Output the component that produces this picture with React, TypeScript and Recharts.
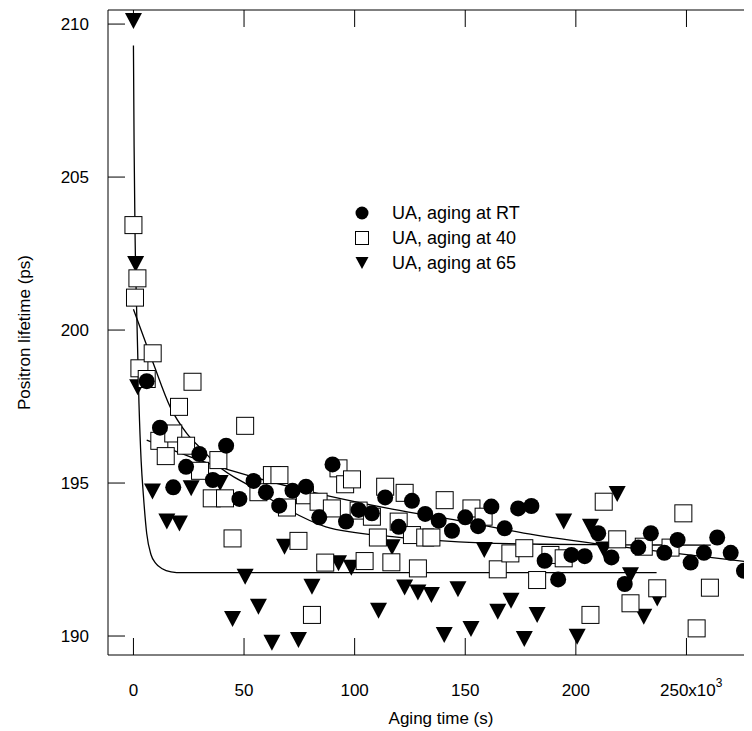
import React from 'react';
import { ComposedChart, Scatter, Line, XAxis, YAxis, ReferenceLine, Legend } from 'recharts';

// ---- data ----
const rtTime = [6, 12, 18, 23.8, 29.8, 35.9, 41.9, 47.9, 54.3, 59.9, 65.9, 71.9, 78, 84, 90, 96.1, 101.8, 107.8, 113.8, 119.9, 125.9, 131.9, 138, 144, 150, 155.8, 161.8, 167.8, 173.9, 179.9, 185.9, 192, 198, 204, 210.1, 216.1, 222.1, 228.2, 233.9, 240, 246, 251.9, 257.9, 263.9, 270, 276];
const rtLifetime = [198.33, 196.81, 194.86, 195.53, 195.95, 195.1, 196.22, 194.48, 195.07, 194.7, 194.26, 194.75, 194.88, 193.88, 195.61, 193.74, 194.12, 194.01, 194.53, 193.57, 194.42, 193.99, 193.77, 193.44, 193.88, 193.59, 194.23, 193.52, 194.17, 194.25, 192.46, 191.85, 192.65, 192.61, 193.36, 192.57, 191.7, 192.89, 193.36, 192.72, 193.14, 192.4, 192.72, 193.22, 192.72, 192.13];

const a40Time = [0, 0.7, 1.8, 2.7, 6, 8.7, 11.7, 14.6, 18, 20.6, 23.8, 26.7, 30.1, 35.4, 38.4, 41.4, 44.8, 50.5, 56.5, 62.6, 66, 69.4, 74.6, 77.5, 80.7, 83.7, 86.7, 89.7, 92.7, 95.7, 98.8, 101.8, 104.5, 107.8, 110.5, 113.8, 116.6, 119.9, 122.6, 125.9, 128.6, 131.9, 134.7, 140.7, 152.8, 158.3, 164.7, 170.4, 176.7, 182.5, 188.5, 194.5, 206.6, 212.6, 218.7, 224.7, 230.7, 236.8, 242.8, 248.6, 254.6, 260.6];
const a40Lifetime = [203.43, 201.06, 201.69, 198.75, 198.4, 199.24, 196.38, 195.88, 196.62, 197.49, 196.22, 198.31, 195.4, 194.5, 195.75, 194.5, 193.19, 196.87, 194.7, 195.26, 195.26, 194.2, 193.11, 194.6, 190.69, 194.39, 192.4, 194.17, 195.48, 194.96, 195.12, 194.1, 192.45, 193.9, 193.22, 194.88, 192.41, 193.74, 194.68, 193.3, 192.21, 193.22, 193.22, 194.44, 194.17, 193.9, 192.18, 192.7, 192.87, 191.83, 192.65, 192.54, 190.69, 194.39, 193.16, 191.07, 192.92, 191.56, 192.89, 194.01, 190.25, 191.58];

const a65Time = [0, 1, 1.9, 8.6, 15.1, 20.8, 26.1, 39.2, 44.8, 50.5, 56.5, 62.6, 68.3, 74.6, 80.7, 92.7, 98.5, 110.8, 116.9, 122.6, 128.6, 134.7, 140.5, 146.7, 152.6, 158.6, 164.7, 170.7, 176.7, 182.5, 194.5, 200.6, 206.6, 212.6, 218.7, 224.7, 230.7, 236.8];
const a65Lifetime = [210.1, 202.16, 198.13, 194.72, 193.74, 193.68, 194.83, 195.0, 190.56, 191.94, 190.96, 189.78, 192.92, 189.87, 191.61, 192.38, 192.23, 190.83, 192.9, 191.59, 191.42, 191.34, 190.03, 191.53, 190.23, 192.81, 190.79, 191.15, 189.9, 190.69, 193.74, 189.98, 193.57, 192.83, 194.64, 191.99, 190.63, 191.23];

const fitRTTime = [6, 26, 40, 54, 87, 117, 147, 182, 230, 278];
const fitRTLifetime = [196.4, 195.85, 195.5, 195.2, 194.6, 194.15, 193.77, 193.3, 192.83, 192.42];

const fit40Time = [0, 9, 16.6, 24.1, 31.6, 37.7, 54.3, 69.4, 87, 117, 147, 184, 220, 261];
const fit40Lifetime = [200.68, 198.91, 197.49, 196.62, 196.05, 195.6, 194.83, 194.15, 193.57, 193.25, 193.08, 193.0, 192.98, 192.97];

const fit65Time = [0, 0.3, 0.7, 1.5, 2.5, 3.5, 4.5, 6, 8, 10, 13, 17, 22, 236.5];
const fit65Lifetime = [209.3, 206, 203.3, 200.5, 197.6, 195.7, 194.6, 193.35, 192.65, 192.38, 192.2, 192.1, 192.07, 192.07];

const xTicks = [0, 50, 100, 150, 200, 250];
const xTickLabels = ['0', '50', '100', '150', '200', '250x10'];
const yTicks = [190, 195, 200, 205, 210];
const legendLabels = ['UA, aging at RT', 'UA, aging at 40', 'UA, aging at 65'];

const X_DOMAIN: [number, number] = [-11.5, 283.7];
const Y_DOMAIN: [number, number] = [189.38, 210.46];

const zip = (ts: number[], vs: number[]) => ts.map((t, i) => ({ t, v: vs[i] }));
const rtData = zip(rtTime, rtLifetime);
const a40Data = zip(a40Time, a40Lifetime);
const a65Data = zip(a65Time, a65Lifetime);
const fitRT = zip(fitRTTime, fitRTLifetime);
const fit40 = zip(fit40Time, fit40Lifetime);
const fit65 = zip(fit65Time, fit65Lifetime);

// ---- layout ----
const FONT = '"Liberation Sans", Arial, Helvetica, sans-serif';
const W = 760;
const H = 723;
const PLOT_LEFT = 100;
const PLOT_RIGHT = 753;
const PLOT_TOP = 2;
const PLOT_BOTTOM = 647;
const TICK = 17;
const FS = 17;

const XTick = (props: any) => {
  const { x, payload } = props;
  const idx = xTicks.indexOf(payload.value);
  const label = idx >= 0 ? xTickLabels[idx] : String(payload.value);
  const isLast = payload.value === 250;
  return (
    <g>
      <line x1={x} x2={x} y1={PLOT_BOTTOM} y2={PLOT_BOTTOM - TICK} stroke="#000" strokeWidth={1} />
      <line x1={x} x2={x} y1={PLOT_TOP} y2={PLOT_TOP + TICK} stroke="#000" strokeWidth={1} />
      {isLast ? (
        <text x={x + 36} y={688} textAnchor="end" fontSize={FS} fontFamily={FONT} fill="#000">
          {label}
          <tspan dy={-9} fontSize={12}>3</tspan>
        </text>
      ) : (
        <text x={x} y={688} textAnchor="middle" fontSize={FS} fontFamily={FONT} fill="#000">
          {label}
        </text>
      )}
    </g>
  );
};

const YTick = (props: any) => {
  const { y, payload } = props;
  return (
    <g>
      <line x1={PLOT_LEFT} x2={PLOT_LEFT + TICK} y1={y} y2={y} stroke="#000" strokeWidth={1} />
      <line x1={PLOT_RIGHT} x2={PLOT_RIGHT - TICK} y1={y} y2={y} stroke="#000" strokeWidth={1} />
      <text x={81} y={y + 6} textAnchor="end" fontSize={FS} fontFamily={FONT} fill="#000">
        {payload.value}
      </text>
    </g>
  );
};

const CircleShape = (p: any) => <circle cx={p.cx} cy={p.cy} r={8} fill="#000" />;
const SquareShape = (p: any) => (
  <rect x={p.cx - 8.5} y={p.cy - 8.5} width={17} height={17} fill="#fff" stroke="#000" strokeWidth={1} />
);
const TriShape = (p: any) => (
  <polygon
    points={`${p.cx - 8.5},${p.cy - 8} ${p.cx + 8.5},${p.cy - 8} ${p.cx},${p.cy + 8}`}
    fill="#000"
  />
);

const LegendContent = () => (
  <svg width={220} height={75} style={{ display: 'block', overflow: 'visible' }}>
    {legendLabels.map((label, i) => {
      const cy = 10 + i * 25;
      const cx = 14;
      let marker;
      if (i === 0) marker = <circle cx={cx} cy={cy} r={6.5} fill="#000" />;
      else if (i === 1) marker = <rect x={cx - 6.5} y={cy - 6.5} width={13} height={13} fill="#fff" stroke="#000" strokeWidth={1} />;
      else marker = <polygon points={`${cx - 6.5},${cy - 6} ${cx + 6.5},${cy - 6} ${cx},${cy + 6}`} fill="#000" />;
      return (
        <g key={label}>
          {marker}
          <text x={44} y={cy + 6} fontSize={18} fontFamily={FONT} fill="#000">{label}</text>
        </g>
      );
    })}
  </svg>
);

export default function App() {
  return (
    <div style={{ width: 744, height: H, overflow: 'hidden', fontFamily: FONT }}>
      <ComposedChart width={W} height={H} margin={{ top: PLOT_TOP, right: W - PLOT_RIGHT, bottom: 0, left: 0 }}>
        <XAxis
          type="number"
          dataKey="t"
          domain={X_DOMAIN}
          ticks={xTicks}
          allowDataOverflow
          height={H - PLOT_BOTTOM}
          tickLine={false}
          tick={<XTick />}
          axisLine={{ stroke: '#000', strokeWidth: 1 }}
          interval={0}
          label={(p: any) => (
            <text x={433} y={716} textAnchor="middle" fontSize={FS} fontFamily={FONT} fill="#000">Aging time (s)</text>
          )}
        />
        <YAxis
          type="number"
          dataKey="v"
          domain={Y_DOMAIN}
          ticks={yTicks}
          allowDataOverflow
          width={PLOT_LEFT}
          tickLine={false}
          tick={<YTick />}
          axisLine={{ stroke: '#000', strokeWidth: 1 }}
          interval={0}
          label={(p: any) => (
            <text x={22} y={(PLOT_TOP + PLOT_BOTTOM) / 2} transform={`rotate(-90, 22, ${(PLOT_TOP + PLOT_BOTTOM) / 2})`} textAnchor="middle" fontSize={FS} fontFamily={FONT} fill="#000">Positron lifetime (ps)</text>
          )}
        />
        <ReferenceLine y={Y_DOMAIN[1]} stroke="#000" strokeWidth={1} />
        <ReferenceLine x={X_DOMAIN[1]} stroke="#000" strokeWidth={1} />
        <Scatter data={a65Data} dataKey="v" shape={<TriShape />} isAnimationActive={false} legendType="none" />
        <Scatter data={a40Data} dataKey="v" shape={<SquareShape />} isAnimationActive={false} legendType="none" />
        <Line data={fit65} dataKey="v" type="monotone" dot={false} activeDot={false} stroke="#000" strokeWidth={1.3} isAnimationActive={false} legendType="none" />
        <Line data={fit40} dataKey="v" type="monotone" dot={false} activeDot={false} stroke="#000" strokeWidth={1.3} isAnimationActive={false} legendType="none" />
        <Line data={fitRT} dataKey="v" type="monotone" dot={false} activeDot={false} stroke="#000" strokeWidth={1.3} isAnimationActive={false} legendType="none" />
        <Scatter data={rtData} dataKey="v" shape={<CircleShape />} isAnimationActive={false} legendType="none" />
        <Legend
          layout="vertical"
          align="center"
          verticalAlign="middle"
          content={<LegendContent />}
          wrapperStyle={{ position: 'absolute', left: 340, top: 195, width: 220, height: 75 }}
        />
      </ComposedChart>
    </div>
  );
}
